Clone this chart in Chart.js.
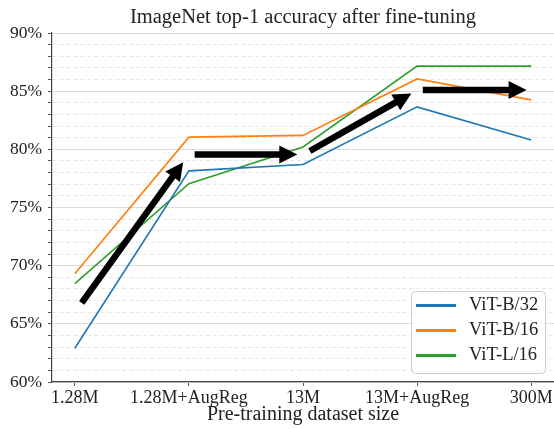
<!DOCTYPE html>
<html>
<head>
<meta charset="utf-8">
<script src="https://cdn.jsdelivr.net/npm/chart.js@4.4.1/dist/chart.umd.min.js"></script>
<style>
  html, body { margin: 0; padding: 0; background: #fff; }
  canvas { display: block; }
</style>
</head>
<body>
<canvas id="chart" width="554" height="429"></canvas>
<script>
const xLabels = ["1.28M", "1.28M+AugReg", "13M", "13M+AugReg", "300M"];
const seriesNames = ["ViT-B/32", "ViT-B/16", "ViT-L/16"];
const vitB32 = [62.9, 78.15, 78.7, 83.65, 80.8];
const vitB16 = [69.3, 81.05, 81.2, 86.05, 84.25];
const vitL16 = [68.45, 77.05, 80.2, 87.15, 87.15];
const seriesColors = ["#1f77b4", "#ff7f0e", "#2ca02c"];

// arrows: [x index, accuracy] start and end
const arrowFrom = [[0.06, 66.8], [1.05, 79.55], [2.06, 79.85], [3.05, 85.1]];
const arrowTo = [[0.95, 78.9], [1.95, 79.55], [2.95, 84.8], [3.96, 85.1]];

const serif = "'Liberation Serif', 'DejaVu Serif', serif";

function toPoints(values) {
  return values.map((v, i) => ({ x: i, y: v }));
}

const titlePlugin = {
  id: "centerTitle",
  afterDraw(chart) {
    const ctx = chart.ctx;
    const area = chart.chartArea;
    ctx.save();
    ctx.fillStyle = "#222";
    ctx.font = "20.5px " + serif;
    ctx.textAlign = "center";
    ctx.textBaseline = "middle";
    ctx.fillText("ImageNet top-1 accuracy after fine-tuning", (area.left + area.right) / 2, 18);
    ctx.restore();
  }
};

const arrowPlugin = {
  id: "arrows",
  afterDatasetsDraw(chart) {
    const ctx = chart.ctx;
    const xs = chart.scales.x;
    const ys = chart.scales.y;
    const shaft = 3.2, headHalf = 9, headLen = 18;
    ctx.save();
    ctx.fillStyle = "#000";
    for (let i = 0; i < arrowFrom.length; i++) {
      const x0 = xs.getPixelForValue(arrowFrom[i][0]);
      const y0 = ys.getPixelForValue(arrowFrom[i][1]);
      const x1 = xs.getPixelForValue(arrowTo[i][0]);
      const y1 = ys.getPixelForValue(arrowTo[i][1]);
      const len = Math.hypot(x1 - x0, y1 - y0);
      const ang = Math.atan2(y1 - y0, x1 - x0);
      ctx.save();
      ctx.translate(x0, y0);
      ctx.rotate(ang);
      ctx.beginPath();
      ctx.moveTo(0, -shaft);
      ctx.lineTo(len - headLen, -shaft);
      ctx.lineTo(len - headLen, -headHalf);
      ctx.lineTo(len, 0);
      ctx.lineTo(len - headLen, headHalf);
      ctx.lineTo(len - headLen, shaft);
      ctx.lineTo(0, shaft);
      ctx.closePath();
      ctx.fill();
      ctx.restore();
    }
    ctx.restore();
  }
};

const legendPlugin = {
  id: "innerLegend",
  afterDraw(chart) {
    const ctx = chart.ctx;
    const area = chart.chartArea;
    const w = 134, h = 82;
    const bx = area.right - 9 - w;
    const by = area.bottom - 9 - h;
    ctx.save();
    ctx.beginPath();
    ctx.roundRect(bx + 0.5, by + 0.5, w, h, 4);
    ctx.fillStyle = "rgba(255,255,255,0.85)";
    ctx.fill();
    ctx.strokeStyle = "#cccccc";
    ctx.lineWidth = 1;
    ctx.stroke();
    ctx.font = "18.5px " + serif;
    ctx.textBaseline = "middle";
    ctx.textAlign = "left";
    chart.data.datasets.forEach((ds, i) => {
      const ry = by + 14.5 + i * 25;
      ctx.beginPath();
      ctx.moveTo(bx + 5, ry);
      ctx.lineTo(bx + 45, ry);
      ctx.strokeStyle = ds.borderColor;
      ctx.lineWidth = 3;
      ctx.stroke();
      ctx.fillStyle = "#222";
      ctx.fillText(ds.label, bx + 58, ry);
    });
    ctx.restore();
  }
};

const ctx = document.getElementById("chart").getContext("2d");
new Chart(ctx, {
  type: "line",
  data: {
    datasets: [
      { label: seriesNames[0], data: toPoints(vitB32), borderColor: seriesColors[0] },
      { label: seriesNames[1], data: toPoints(vitB16), borderColor: seriesColors[1] },
      { label: seriesNames[2], data: toPoints(vitL16), borderColor: seriesColors[2] }
    ]
  },
  options: {
    responsive: false,
    animation: false,
    devicePixelRatio: 1,
    layout: { padding: { top: 33, right: 0, left: 0, bottom: 0 } },
    elements: {
      line: { borderWidth: 1.6, tension: 0, fill: false },
      point: { radius: 0, hoverRadius: 0 }
    },
    plugins: {
      legend: { display: false },
      title: { display: false },
      tooltip: { enabled: false }
    },
    scales: {
      x: {
        type: "linear",
        min: -0.2,
        max: 4.2,
        afterBuildTicks: (scale) => {
          scale.ticks = xLabels.map((_, i) => ({ value: i }));
        },
        afterFit: (scale) => { scale.height = 47; },
        ticks: {
          autoSkip: false,
          maxRotation: 0,
          padding: 1,
          color: "#222",
          font: { family: serif, size: 18 },
          callback: (v) => xLabels[v]
        },
        grid: { drawOnChartArea: false, drawTicks: true, tickLength: 4, tickColor: "#555" },
        border: { color: "#444", width: 1.2 },
        title: {
          display: true,
          text: "Pre-training dataset size",
          color: "#222",
          font: { family: serif, size: 20 },
          padding: { top: 0, bottom: 2.5 }
        }
      },
      y: {
        min: 60,
        max: 90,
        afterBuildTicks: (scale) => {
          const t = [];
          for (let v = 60; v <= 90; v++) t.push({ value: v });
          scale.ticks = t;
        },
        afterFit: (scale) => { scale.width = 52; },
        ticks: {
          autoSkip: false,
          padding: 6,
          color: "#222",
          font: { family: serif, size: 17.5 },
          callback: (v) => (v % 5 === 0 ? v + "%" : "")
        },
        grid: {
          color: (c) => (c.tick && c.tick.value % 5 !== 0 ? "#e6e6e6" : "#dcdcdc"),
          lineWidth: 1,
          tickLength: 4,
          tickColor: "#555"
        },
        border: {
          color: "#444",
          width: 1.2,
          dash: (c) => (c.tick && c.tick.value % 5 !== 0 ? [4, 3] : [])
        }
      }
    }
  },
  plugins: [titlePlugin, arrowPlugin, legendPlugin]
});
</script>
</body>
</html>
